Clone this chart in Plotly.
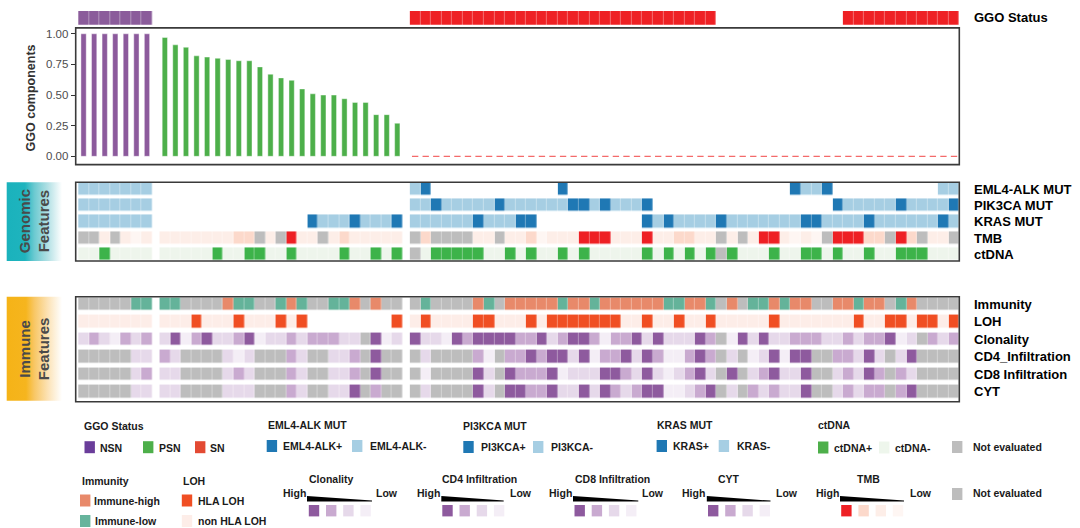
import plotly.graph_objects as go

W, H = 1080, 528
FONT = "Arial, Liberation Sans, Helvetica, sans-serif"

# ---------------- data ----------------
groups = ["NSN", "PSN", "SN"]

# GGO components (bar heights)
ggo_nsn = [1.00, 1.00, 1.00, 1.00, 1.00, 1.00, 1.00]
ggo_psn = [0.97, 0.91, 0.89, 0.82, 0.81, 0.80, 0.79, 0.78, 0.78, 0.73, 0.67, 0.64,
           0.62, 0.55, 0.51, 0.50, 0.50, 0.47, 0.44, 0.44, 0.34, 0.34, 0.27]
ggo_sn = [0.00, 0.00, 0.00, 0.00, 0.00, 0.00, 0.00, 0.00, 0.00, 0.00, 0.00, 0.00, 0.00,
          0.00, 0.00, 0.00, 0.00, 0.00, 0.00, 0.00, 0.00, 0.00, 0.00, 0.00, 0.00, 0.00,
          0.00, 0.00, 0.00, 0.00, 0.00, 0.00, 0.00, 0.00, 0.00, 0.00, 0.00, 0.00, 0.00,
          0.00, 0.00, 0.00, 0.00, 0.00, 0.00, 0.00, 0.00, 0.00, 0.00, 0.00, 0.00, 0.00]

# GGO status row (P = NSN, S = SN, . = not drawn)
ggo_status = {
    "NSN": "PPPPPPP",
    "PSN": ".......................",
    "SN": "SSSSSSSSSS" "SSSSSSSSSS" "SSSSSSSSS" "............" "SSSSSSSSSSS",
}

genomic_rows = ["EML4-ALK MUT", "PIK3CA MUT", "KRAS MUT", "TMB", "ctDNA"]
genomic_kinds = ["mut", "mut", "mut", "tmb", "ctdna"]
genomic = {
    "NSN": ["-------", "-------", "-------", "NN3N343", "--+----"],
    "PSN": [".......................",
            ".......................",
            ".............." "+---+---+",
            "3333333" "22" "N3NH33N32" "33333",
            "-----+--++--+----+--+-+"],
    "SN": ["-+" "............" "+" "....................." "+--+" ".........." "--",
           "--+" "-----" "+" "------" "++-+" "---" "+" "................." "+" "-----" "+" "----" "+",
           "------" "+" "---" "++" ".........." "+-+" "----" "+" "-------" "++" "----" "+" "------" "+-",
           "N2NNNN33N332" "43" "33" "HHH" "333" "H" "33" "22" "33" "N3N3" "HH" "3434" "N" "HHH" "22" "NH2N" "33N",
           "N-+++++--+-+" "--+-+" "-----" "+-+-+-+" "N+---+--++-+--+--+++---"],
}

immune_rows = ["Immunity", "LOH", "Clonality", "CD4_Infiltration", "CD8 Infiltration", "CYT"]
immune_kinds = ["immunity", "loh", "level", "level", "level", "level"]
immune = {
    "NSN": ["NNNNNLL", "nnnnnnn", "3234232", "NNNNN33", "NNNNN32", "NNNNN33"],
    "PSN": ["LLNNNNHLLNNLHLNNLLHNHNN",
            "nnnYnnnYnnnYnY........Y",
            "3H42H332H4332322233NH43",
            "23NNNN343NNN23NN332NHNN",
            "33NNNN323NNN23NN332NHNN",
            "33NNNN333NNN23NN33HN2NN"],
    "SN": ["NLNNNNHLNHHH" "HHLHHL" "HHHHHH" "LLHHL" "NHNLLHLHHNN" "HHLHHNLH" "NNNN",
           "nYnnnnYYnnnY" "n" "YYYYYYY" "nn" "Y" "nn" "Y" "nn" "Y" "nnnnn" "Y" "nnnnnnn" "Y" "nn" "YY" "n" "YY" "n" "Y",
           "H334H2HHHH22" "H32HH2422H3H333H2" "N4H3H33222332322H43N232",
           "N3NNNN24N22H" "2HH3H422H3H2442H2" "N3N43H4HHNN223H3N3HNNNN",
           "N4NNNNH3NH22" "2H4333HH23H3432H3" "NHN32H33HNN323H2N23NNNN",
           "N3NNNNH3NHH2" "2H33H3H232HH4432H" "N3N23233HNN32322N2HNNNN"],
}

palette = {
    "status": {"P": "#8B5C9B", "S": "#EE2024"},
    "mut": {"+": "#1F78B4", "-": "#A6CEE3"},
    "tmb": {"H": "#EE2024", "2": "#FCD9CB", "3": "#FDEEE8", "4": "#FEF6F3", "N": "#BDBDBD"},
    "ctdna": {"+": "#3DB34A", "-": "#EEF5EC", "N": "#BDBDBD"},
    "immunity": {"H": "#E8896A", "L": "#64B39A", "N": "#BDBDBD"},
    "loh": {"Y": "#F04E23", "n": "#FDEDE8"},
    "level": {"H": "#8E5A9E", "2": "#C9AAD0", "3": "#E6D9EA", "4": "#F4EEF6", "N": "#BDBDBD"},
}

sizes = {"NSN": len(ggo_nsn), "PSN": len(ggo_psn), "SN": len(ggo_sn)}
for g in groups:
    assert len(ggo_status[g]) == sizes[g], ("status", g)
    for r in genomic[g]:
        assert len(r) == sizes[g], ("genomic", g, r, len(r))
    for r in immune[g]:
        assert len(r) == sizes[g], ("immune", g, r, len(r))

# ---------------- geometry ----------------
GAP = 0.69
offsets = {"NSN": 0.0, "PSN": sizes["NSN"] + GAP,
           "SN": sizes["NSN"] + GAP + sizes["PSN"] + GAP}
xs = {g: [offsets[g] + i for i in range(sizes[g])] for g in groups}
x_range = [-0.746, offsets["SN"] + sizes["SN"] - 0.5]
xdom = [75.7 / W, 959.3 / W]


def ydom(top, bottom):
    return [1 - bottom / H, 1 - top / H]


fig = go.Figure()

colors = []


def zval(kind, ch):
    if ch == ".":
        return None
    c = palette[kind][ch]
    if c not in colors:
        colors.append(c)
    return colors.index(c) + 0.5


XGAP = 0.35


def add_heat(data, kinds, yaxis, ygap):
    for g in groups:
        z = [[zval(k, ch) for ch in data[g][r]] for r, k in enumerate(kinds)]
        fig.add_trace(go.Heatmap(x=xs[g], y=list(range(len(kinds))), z=z,
                                 xaxis="x", yaxis=yaxis, xgap=XGAP, ygap=ygap,
                                 showscale=False, hoverinfo="skip"))


# status row
for g in groups:
    z = [[zval("status", ch) for ch in ggo_status[g]]]
    fig.add_trace(go.Heatmap(x=xs[g], y=[0], z=z, xaxis="x", yaxis="y2", xgap=XGAP,
                             showscale=False, hoverinfo="skip"))

add_heat(genomic, genomic_kinds, "y3", 3.7)
add_heat(immune, immune_kinds, "y4", 4.8)

n = len(colors)
cs = []
for i, c in enumerate(colors):
    cs.append([i / n, c])
    cs.append([(i + 1) / n, c])
fig.update_traces(selector=dict(type="heatmap"), colorscale=cs, zmin=0, zmax=n)

# bars
fig.add_trace(go.Bar(x=xs["NSN"], y=ggo_nsn, width=0.5, marker_color="#8C5A9C",
                     marker_line=dict(color="rgba(255,255,255,0.7)", width=0.6),
                     xaxis="x", yaxis="y", hoverinfo="skip"))
fig.add_trace(go.Bar(x=xs["PSN"], y=ggo_psn, width=0.5, marker_color="#4DAF4A",
                     marker_line=dict(color="rgba(255,255,255,0.7)", width=0.6),
                     xaxis="x", yaxis="y", hoverinfo="skip"))
dx, dy = [], []
for x, v in zip(xs["SN"], ggo_sn):
    dx += [x - 0.3, x + 0.3, None]
    dy += [v, v, None]
fig.add_trace(go.Scatter(x=dx, y=dy, mode="lines", line=dict(color="#F46A6A", width=1.2),
                         xaxis="x", yaxis="y", hoverinfo="skip"))


# gradient boxes on pixel overlay axis
def grad_box(x0, x1, y0, y1, cscale):
    fig.add_trace(go.Scatter(x=[x0, x1, x1, x0, x0], y=[y0, y0, y1, y1, y0], mode="lines",
                             line=dict(width=0), fill="toself",
                             fillgradient=dict(type="horizontal", colorscale=cscale),
                             xaxis="x5", yaxis="y5", hoverinfo="skip"))


grad_box(6.7, 62, 182.3, 261, [[0, "#1AB2BC"], [0.33, "#1FB4BE"], [0.5, "#6CCAD1"],
                               [0.75, "#B4E1E5"], [1, "#FFFFFF"]])
grad_box(6.7, 62, 296.7, 400.7, [[0, "#F5B317"], [0.35, "#F6B51E"], [0.5, "#F8C765"],
                                 [0.75, "#FCE3B7"], [1, "#FFFFFF"]])

# ---------------- layout ----------------
fig.update_layout(
    width=W, height=H, margin=dict(l=0, r=0, t=0, b=0), autosize=False,
    paper_bgcolor="white", plot_bgcolor="rgba(0,0,0,0)", showlegend=False,
    font=dict(family=FONT),
    xaxis=dict(domain=xdom, range=x_range, visible=False, anchor="y", fixedrange=True),
    yaxis=dict(domain=ydom(27.9, 164.6), range=[-0.0678, 1.0482], anchor="x",
               tickvals=[0, 0.25, 0.5, 0.75, 1.0], tickformat=".2f",
               ticks="outside", ticklen=4, tickwidth=1, tickcolor="#333",
               tickfont=dict(size=11.5, color="#4D4D4D", family=FONT),
               showgrid=False, zeroline=False, showline=False, fixedrange=True),
    yaxis2=dict(domain=ydom(11, 24.8), range=[-0.5, 0.5], visible=False, anchor="x"),
    yaxis3=dict(domain=ydom(182.3, 261), range=[4.42, -0.445], visible=False, anchor="x"),
    yaxis4=dict(domain=ydom(296.7, 401.7), range=[5.57, -0.434], visible=False, anchor="x"),
    xaxis5=dict(domain=[0, 1], range=[0, W], visible=False, anchor="y5", fixedrange=True),
    yaxis5=dict(domain=[0, 1], range=[H, 0], visible=False, anchor="x5", fixedrange=True),
)

FRAME = "#3A3A3A"
for ya in ["y", "y3", "y4"]:
    fig.add_shape(type="rect", xref="x domain", yref=f"{ya} domain", x0=0, x1=1, y0=0, y1=1,
                  line=dict(color=FRAME, width=1.6), fillcolor="rgba(0,0,0,0)")


def txt(x, y, s, size=10.5, bold=True, anchor="left", color="#1A1A1A", angle=0,
        xref="x5", yref="y5"):
    fig.add_annotation(x=x, y=y, xref=xref, yref=yref, text=f"<b>{s}</b>" if bold else s,
                       showarrow=False, xanchor=anchor, yanchor="middle", borderpad=0,
                       textangle=angle, font=dict(size=size, color=color, family=FONT))


def sq(x0, y0, color, w=10.4, h=12):
    fig.add_shape(type="rect", xref="x5", yref="y5", x0=x0, x1=x0 + w, y0=y0, y1=y0 + h,
                  fillcolor=color, line=dict(width=0))


# axis title and side labels
txt(31, 98.4, "GGO components", size=12.5, anchor="center", color="#333333", angle=-90)
txt(34.5, 221.7, "Genomic<br>Features", size=15, anchor="center", color="#4A4A4A", angle=-90)
txt(34.5, 348.7, "Immune<br>Features", size=15, anchor="center", color="#4A4A4A", angle=-90)

txt(973, 0, "GGO Status", size=13, color="#000", yref="y2")
for i, name in enumerate(genomic_rows):
    txt(973, i, name, size=13, color="#000", yref="y3")
for i, name in enumerate(immune_rows):
    txt(973, i, name, size=13, color="#000", yref="y4")

# ---------------- legends ----------------
leg_titles = [("GGO Status", 83, 425.5), ("EML4-ALK MUT", 267.4, 424.5),
              ("PI3KCA MUT", 462.3, 425.5), ("KRAS MUT", 655.6, 424.5),
              ("ctDNA", 817, 424.5), ("Immunity", 81.4, 480.5), ("LOH", 181.8, 480.5)]
for t, x, y in leg_titles:
    txt(x, y, t)

leg_items = [
    ("NSN", "#6A3D9A", 84.5, 441.2, 99, 447.5),
    ("PSN", "#4DAF4A", 143, 441.2, 157.7, 447.5),
    ("SN", "#E34A33", 195, 441.2, 209.4, 447.5),
    ("EML4-ALK+", "#1F78B4", 266.7, 440, 282, 446),
    ("EML4-ALK-", "#A6CEE3", 352, 440, 368.5, 446),
    ("PI3KCA+", "#1F78B4", 463.3, 441, 480, 447),
    ("PI3KCA-", "#A6CEE3", 533, 441, 550.4, 447),
    ("KRAS+", "#1F78B4", 656.6, 440, 671.8, 446),
    ("KRAS-", "#A6CEE3", 718.7, 440, 735.6, 446),
    ("ctDNA+", "#4DAF4A", 818, 441.5, 832.6, 447.5),
    ("ctDNA-", "#EEF6EC", 879, 441.5, 893.6, 447.5),
    ("Not evaluated", "#BDBDBD", 952, 441, 972.3, 447),
    ("Immune-high", "#E8896A", 80, 494.5, 92.5, 500.7),
    ("Immune-low", "#66B49C", 80, 515, 93.8, 521),
    ("HLA LOH", "#F04E23", 181.8, 494.5, 197.3, 500.7),
    ("non HLA LOH", "#FDEDE8", 181.8, 515, 197.3, 521),
    ("Not evaluated", "#BDBDBD", 952, 488, 972.3, 492.8),
]
for label, col, sx, sy, tx, ty in leg_items:
    sq(sx, sy, col)
    txt(tx, ty, label)

lv = palette["level"]
tm = palette["tmb"]
grad_legs = [
    ("Clonality", 330.7, 307, 372, 375.4, 308.8, [lv["H"], lv["2"], lv["3"], lv["4"]]),
    ("CD4 Infiltration", 479.2, 441.3, 503.7, 509, 442.3, [lv["H"], lv["2"], lv["3"], lv["4"]]),
    ("CD8 Infiltration", 612, 573, 638.3, 641, 574.5, [lv["H"], lv["2"], lv["3"], lv["4"]]),
    ("CYT", 729, 706.8, 770.5, 774.6, 708, [lv["H"], lv["2"], lv["3"], lv["4"]]),
    ("TMB", 868, 840, 904, 908.5, 841.2, [tm["H"], tm["2"], tm["3"], tm["4"]]),
]
for title, cx, wx0, wx1, lowx, sqx, cols in grad_legs:
    txt(cx, 479, title, anchor="center")
    txt(wx0 - 0.5, 492.8, "High", anchor="right")
    txt(lowx, 492.8, "Low", anchor="left")
    fig.add_shape(type="path", xref="x5", yref="y5",
                  path=f"M {wx0},496 L {wx1},500.6 L {wx1},501.6 L {wx0},501.6 Z",
                  fillcolor="#000", line=dict(width=0))
    for k, c in enumerate(cols):
        sq(sqx + 17.2 * k, 505, c, h=11.4)

fig.write_html("out.html", config={"displayModeBar": False, "staticPlot": True},
               post_script="document.body.style.margin='0';document.body.style.overflow='hidden';")
